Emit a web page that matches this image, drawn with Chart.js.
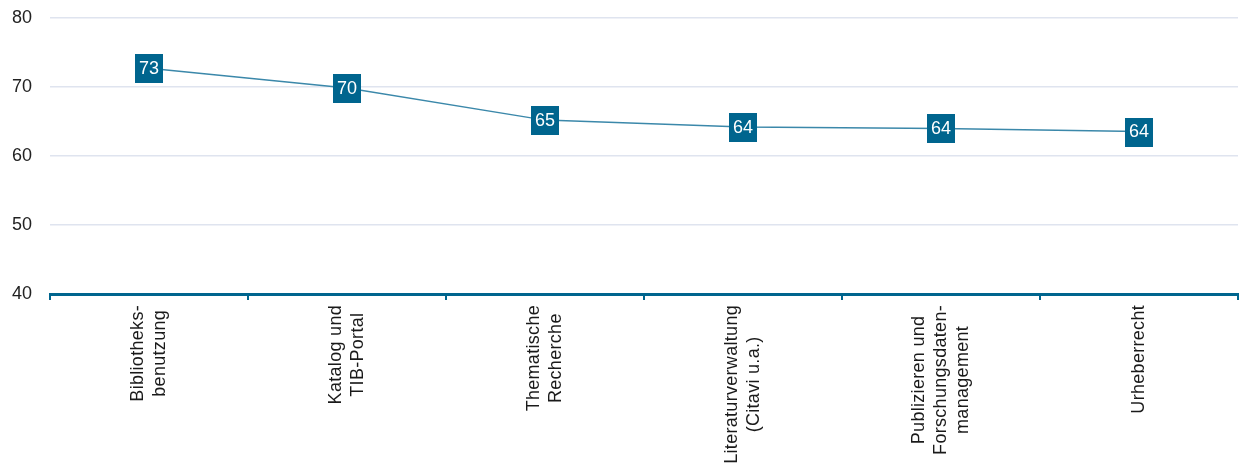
<!DOCTYPE html>
<html>
<head>
<meta charset="utf-8">
<script src="https://cdn.jsdelivr.net/npm/chart.js@4"></script>
<style>
  body { margin: 0; background: #fff; }
  #wrap { width: 1242px; height: 471px; position: relative; }
</style>
</head>
<body>
<div id="wrap"><canvas id="kursChart"></canvas></div>
<script>
const categories = [
    ["Bibliotheks-", "benutzung"],
    ["Katalog und", "TIB-Portal"],
    ["Thematische", "Recherche"],
    ["Literaturverwaltung", "(Citavi u.a.)"],
    ["Publizieren und", "Forschungsdaten-", "management"],
    ["Urheberrecht"]
];
const scores = [72.7, 69.85, 65.2, 64.2, 64.0, 63.55];
const yTicks = [40, 50, 60, 70, 80];

const teal = "#00658e";
const lineColor = "#3b88aa";
const fontFamily = "'Liberation Sans', Arial, sans-serif";

// square value boxes on each point
const valueBoxes = {
    id: "valueBoxes",
    afterDatasetsDraw(chart) {
        const ctx = chart.ctx;
        const meta = chart.getDatasetMeta(0);
        ctx.save();
        meta.data.forEach((pt, i) => {
            ctx.fillStyle = teal;
            ctx.fillRect(Math.round(pt.x) - 14, Math.round(pt.y) - 14, 28, 29);
            ctx.fillStyle = "#ffffff";
            ctx.font = "18px " + fontFamily;
            ctx.textAlign = "center";
            ctx.textBaseline = "middle";
            ctx.fillText(String(Math.round(scores[i])), pt.x, pt.y + 1);
        });
        ctx.restore();
    }
};

// vertical category labels, lines centred on each other
const verticalLabels = {
    id: "verticalLabels",
    afterDraw(chart) {
        const ctx = chart.ctx;
        const xScale = chart.scales.x;
        const lineHeight = 22;
        ctx.save();
        ctx.font = "18px " + fontFamily;
        ctx.letterSpacing = "0.3px";
        ctx.fillStyle = "#1a1a1a";
        ctx.textAlign = "center";
        ctx.textBaseline = "middle";
        categories.forEach((lines, i) => {
            const x = xScale.getPixelForValue(i);
            const maxW = Math.max(...lines.map(l => ctx.measureText(l).width));
            ctx.save();
            ctx.translate(x, xScale.top + 11);
            ctx.rotate(-Math.PI / 2);
            lines.forEach((line, j) => {
                ctx.fillText(line, -maxW / 2, (j - (lines.length - 1) / 2) * lineHeight);
            });
            ctx.restore();
        });
        ctx.restore();
    }
};

new Chart(document.getElementById("kursChart"), {
    type: "line",
    data: {
        labels: categories.map(c => c.join(" ")),
        datasets: [{
            data: scores,
            borderColor: lineColor,
            borderWidth: 1.5,
            backgroundColor: "rgba(0,0,0,0)",
            pointRadius: 0,
            tension: 0
        }]
    },
    options: {
        responsive: true,
        maintainAspectRatio: false,
        animation: false,
        layout: { padding: { top: 18, right: 4, left: 0, bottom: 0 } },
        plugins: {
            legend: { display: false },
            tooltip: { enabled: false }
        },
        scales: {
            x: {
                offset: true,
                grid: {
                    offset: true,
                    drawOnChartArea: false,
                    drawTicks: true,
                    tickLength: 6,
                    color: teal,
                    lineWidth: 2
                },
                border: { color: teal, width: 3 },
                ticks: { display: false },
                afterFit(scale) { scale.height = 177; }
            },
            y: {
                min: 40,
                max: 80,
                afterBuildTicks(scale) { scale.ticks = yTicks.map(v => ({ value: v })); },
                grid: { color: "#dfe4ef", lineWidth: 1.5, drawTicks: false },
                border: { display: false },
                ticks: {
                    padding: 18,
                    color: "#222222",
                    font: { family: fontFamily, size: 18 }
                },
                afterFit(scale) {
                    scale.width = 50;
                    scale.paddingTop = 0;
                    scale.paddingBottom = 0;
                }
            }
        }
    },
    plugins: [valueBoxes, verticalLabels]
});
</script>
</body>
</html>
